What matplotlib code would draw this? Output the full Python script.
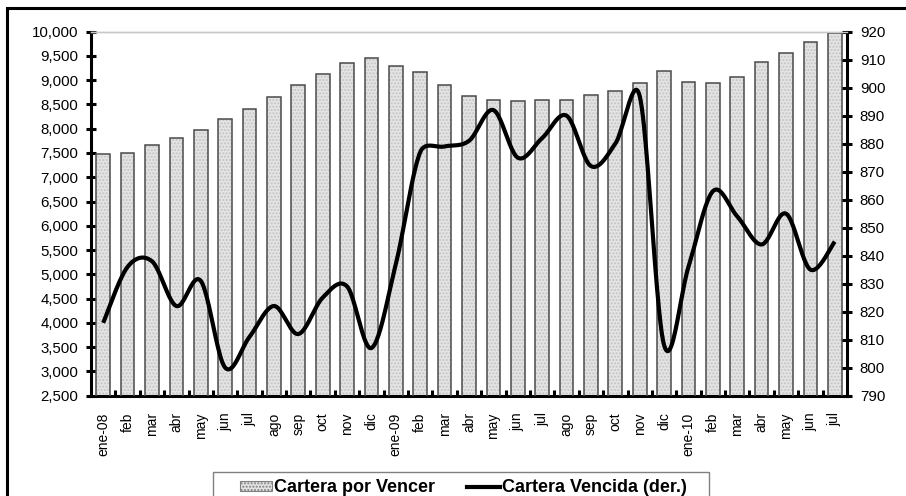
import matplotlib
matplotlib.use("Agg")
import matplotlib.pyplot as plt
from matplotlib.patches import Rectangle, Patch
from matplotlib.lines import Line2D
from matplotlib.ticker import FuncFormatter
import numpy as np

plt.rcParams['font.family'] = ['Liberation Sans', 'DejaVu Sans']

# months (ene-08 .. jul-10)
months = ['ene-08', 'feb', 'mar', 'abr', 'may', 'jun', 'jul', 'ago', 'sep', 'oct', 'nov', 'dic',
          'ene-09', 'feb', 'mar', 'abr', 'may', 'jun', 'jul', 'ago', 'sep', 'oct', 'nov', 'dic',
          'ene-10', 'feb', 'mar', 'abr', 'may', 'jun', 'jul']

# Cartera por Vencer (left axis)
por_vencer = [7480, 7510, 7660, 7810, 7980, 8210, 8400, 8660, 8900, 9130, 9360, 9460,
              9290, 9170, 8900, 8670, 8590, 8570, 8600, 8590, 8690, 8780, 8940, 9180,
              8970, 8950, 9070, 9370, 9560, 9790, 9970]

# Cartera Vencida (right axis)
vencida = [816, 836, 838, 822, 831, 800, 811, 822, 812, 825, 829, 807,
           837, 877, 879, 881, 892, 875, 882, 890, 872, 880, 897, 808,
           836, 863, 854, 844, 855, 835, 845]

left_ticks = list(range(2500, 10001, 500))
right_ticks = list(range(790, 921, 10))

W, H = 906, 496
X0, X1, Y0, Y1 = 91, 847, 31.7, 395.6


def smooth(xs, ys, sx, sy, cap=0.5, n=24):
    # catmull-rom style bezier in screen space, handles capped on short
    # segments so the curve doesn't overshoot (close to excel's smoothing)
    p = np.column_stack([np.asarray(xs, float) * sx, np.asarray(ys, float) * sy])
    m = len(p)
    v = np.array([(p[min(i + 1, m - 1)] - p[max(i - 1, 0)]) / 6 for i in range(m)])
    t = np.linspace(0, 1, n, endpoint=False)[:, None]
    pts = []
    for i in range(m - 1):
        L = np.hypot(*(p[i + 1] - p[i]))
        a = v[i] * min(1, cap * L / np.hypot(*v[i]))
        b = v[i + 1] * min(1, cap * L / np.hypot(*v[i + 1]))
        c1 = p[i] + a
        c2 = p[i + 1] - b
        seg = ((1 - t) ** 3 * p[i] + 3 * (1 - t) ** 2 * t * c1
               + 3 * (1 - t) * t ** 2 * c2 + t ** 3 * p[i + 1])
        pts.append(seg)
    pts.append(p[-1:])
    pts = np.vstack(pts)
    return pts[:, 0] / sx, pts[:, 1] / sy


fig = plt.figure(figsize=(W / 100, H / 100), dpi=100)
ax = fig.add_axes([X0 / W, 1 - Y1 / H, (X1 - X0) / W, (Y1 - Y0) / H])
ax2 = ax.twinx()

x = np.arange(len(months))
ax.bar(x, por_vencer, width=0.56, color='#e4e4e4', hatch='.....', edgecolor='#c4c4c4', linewidth=0, zorder=2)
ax.bar(x, por_vencer, width=0.56, fill=False, edgecolor='#4a4a4a', linewidth=1.1, zorder=3)

px_per_x = (X1 - X0) / len(months)
px_per_y = (Y1 - Y0) / (920 - 790)
lx, ly = smooth(x, vencida, px_per_x, px_per_y)
ax2.plot(lx, ly, color='black', linewidth=3.0, solid_capstyle='butt')

ax.set_xlim(-0.5, len(months) - 0.5)
ax.set_ylim(2500, 10000)
ax2.set_ylim(790, 920)
ax.set_yticks(left_ticks)
ax2.set_yticks(right_ticks)
ax.yaxis.set_major_formatter(FuncFormatter(lambda v, p: f'{int(v):,}'))

ax.set_xticks(x)
ax.set_xticklabels(months, rotation=90, fontsize=10)
ax.set_xticks(np.arange(0.5, len(months) - 1, 1.0), minor=True)
ax.tick_params(axis='x', which='major', length=0, pad=12)
ax.tick_params(axis='x', which='minor', direction='in', length=4, width=2.2)
ax.tick_params(axis='y', direction='inout', length=6.5, width=2.2, labelsize=10.8, pad=6)
ax2.tick_params(axis='y', direction='inout', length=6.5, width=2.2, labelsize=10.8, pad=6)

for a in (ax, ax2):
    a.spines['top'].set_color('#c8c8c8')
    a.spines['top'].set_linewidth(1)
ax.spines['left'].set_linewidth(2.2)
ax.spines['bottom'].set_linewidth(2.2)
ax.spines['right'].set_visible(False)
ax2.spines['left'].set_visible(False)
ax2.spines['bottom'].set_visible(False)
ax2.spines['right'].set_linewidth(2.2)

# outer chart frame (cut at right and bottom)
fig.add_artist(Rectangle((7 / W, -0.1), 1.2, 1.1 - 8 / H, transform=fig.transFigure,
                         fill=False, edgecolor='black', linewidth=2.2))

# legend box, also cut at the bottom
fig.add_artist(Rectangle((213 / W, -0.1), (709 - 213) / W, 0.1 + 1 - 472 / H,
                         transform=fig.transFigure, fill=False, edgecolor='#808080', linewidth=1))
handles = [Patch(facecolor='#e4e4e4', hatch='.....', edgecolor='#808080', linewidth=0.8),
           Line2D([], [], color='black', linewidth=3)]
leg = fig.legend(handles, ['Cartera por Vencer', 'Cartera Vencida (der.)'],
                 loc='center', bbox_to_anchor=(463 / W, 1 - 488 / H), ncol=2,
                 prop={'weight': 'bold', 'size': 13}, frameon=False,
                 handlelength=1.8, handleheight=0.5, handletextpad=0.1,
                 columnspacing=1.8, borderpad=0, borderaxespad=0)

fig.savefig('out.png', dpi=100)
